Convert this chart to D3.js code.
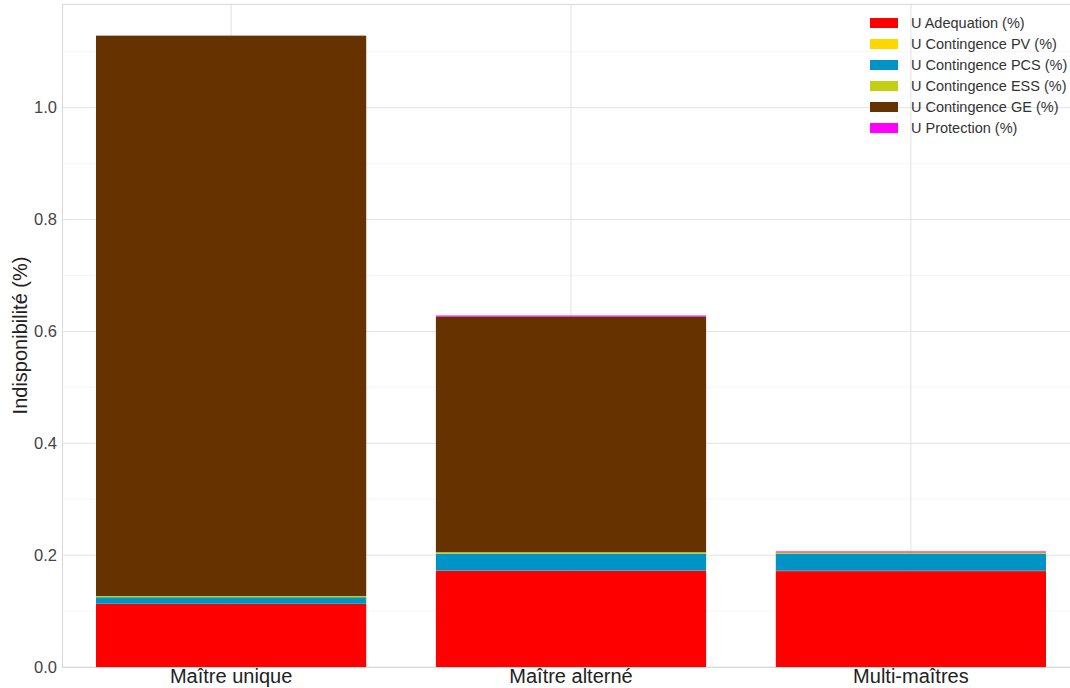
<!DOCTYPE html>
<html><head><meta charset="utf-8">
<script src="https://cdn.jsdelivr.net/npm/d3@7"></script>
<style>body{margin:0;background:#fff;font-family:"Liberation Sans",Arial,sans-serif;}</style>
</head><body><svg id="c" width="1070" height="688"></svg>
<script>
const categories = ["Maître unique", "Maître alterné", "Multi-maîtres"];
const seriesNames = ["U Adequation (%)", "U Contingence PV (%)", "U Contingence PCS (%)", "U Contingence ESS (%)", "U Contingence GE (%)", "U Protection (%)"];
const adequation = [0.1127, 0.1717, 0.1715];
const contPV     = [0.0003, 0.0005, 0.0005];
const contPCS    = [0.0118, 0.0305, 0.0305];
const contESS    = [0.0022, 0.0025, 0.0022];
const contGE     = [1.0018, 0.4215, 0.0005];
const protection = [0.0002, 0.0018, 0.0015];
const colors = ["#ff0000", "#ffd700", "#0093c6", "#c2cf12", "#663300", "#ff00ff"];
const yTicks = [0, 0.2, 0.4, 0.6, 0.8, 1.0];
const yMinor = [0.1, 0.3, 0.5, 0.7, 0.9, 1.1];

const seriesVals = [adequation, contPV, contPCS, contESS, contGE, protection];
const rows = categories.map((c, i) => {
  const r = {cat: c};
  seriesNames.forEach((s, j) => r[s] = seriesVals[j][i]);
  return r;
});
const svg = d3.select("#c");
const m = {l: 62, t: 4, r: 1080, b: 667};
const totals = rows.map(r => d3.sum(seriesNames, s => r[s]));
const y = d3.scaleLinear().domain([0, d3.max(totals) * 1.05]).range([m.b, m.t]);
const x = d3.scaleBand().domain(categories).range([m.l, m.r]).paddingInner(0.205).paddingOuter(0.1);

// grid
svg.append("g").selectAll("line.minor").data(yMinor).join("line")
  .attr("x1", m.l).attr("x2", m.r).attr("y1", d => y(d)).attr("y2", d => y(d))
  .attr("stroke", "#f6f6f6").attr("stroke-width", 1);
svg.append("g").selectAll("line.major").data(yTicks).join("line")
  .attr("x1", m.l).attr("x2", m.r).attr("y1", d => y(d)).attr("y2", d => y(d))
  .attr("stroke", "#e2e2e2").attr("stroke-width", 1);
svg.append("g").selectAll("line.v").data(categories).join("line")
  .attr("x1", d => x(d) + x.bandwidth()/2).attr("x2", d => x(d) + x.bandwidth()/2)
  .attr("y1", m.t).attr("y2", m.b).attr("stroke", "#e2e2e2");
svg.append("rect").attr("x", m.l + 0.5).attr("y", m.t + 0.5).attr("width", m.r - m.l).attr("height", m.b - m.t)
  .attr("fill", "none").attr("stroke", "#d9d9d9");

// bars
const stack = d3.stack().keys(seriesNames)(rows);
svg.append("g").selectAll("g").data(stack).join("g")
  .attr("fill", (d, i) => colors[i])
  .selectAll("rect").data(d => d).join("rect")
  .attr("x", d => x(d.data.cat)).attr("width", x.bandwidth())
  .attr("y", d => y(d[1])).attr("height", d => Math.max(0, y(d[0]) - y(d[1])));

// axes
const ya = svg.append("g").attr("transform", `translate(${m.l},0)`)
  .call(d3.axisLeft(y).tickValues(yTicks).tickFormat(d3.format(".1f")).tickSize(0).tickPadding(5));
ya.select(".domain").remove();
ya.selectAll("text").attr("font-size", 16.5).attr("fill", "#444").attr("font-family", "Liberation Sans, Arial, sans-serif");
const xa = svg.append("g").attr("transform", `translate(0,${m.b})`)
  .call(d3.axisBottom(x).tickSize(0).tickPadding(2));
xa.select(".domain").remove();
xa.selectAll("text").attr("font-size", 20).attr("fill", "#222").attr("font-family", "Liberation Sans, Arial, sans-serif");

svg.append("text").attr("transform", `translate(27,${(m.t + m.b)/2}) rotate(-90)`)
  .attr("text-anchor", "middle").attr("font-size", 20).attr("fill", "#222")
  .text("Indisponibilité (%)");

// legend
const lg = svg.append("g").attr("transform", "translate(870,13)");
seriesNames.forEach((s, i) => {
  const g = lg.append("g").attr("transform", `translate(0,${i * 21})`);
  g.append("rect").attr("width", 28).attr("height", 10).attr("y", 5).attr("fill", colors[i]);
  g.append("text").attr("x", 41).attr("y", 15).attr("font-size", 14.5).attr("fill", "#333").text(s);
});
</script></body></html>
